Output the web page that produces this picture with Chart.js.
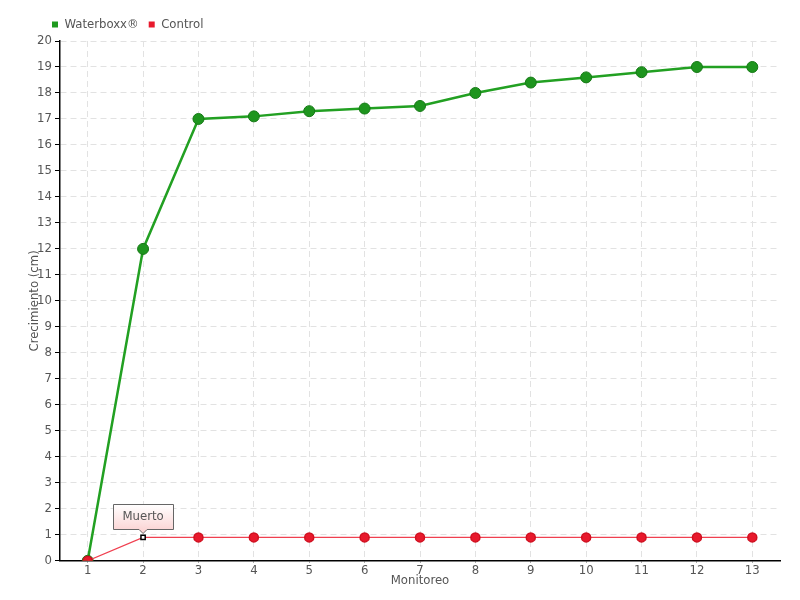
<!DOCTYPE html>
<html>
<head>
<meta charset="utf-8">
<script src="https://cdn.jsdelivr.net/npm/chart.js@4"></script>
<style>
    html, body { margin: 0; padding: 0; background: #fff; }
    #wrap { width: 800px; height: 600px; }
</style>
</head>
<body>
<div id="wrap"><canvas id="chart"></canvas></div>
<script>
// ---- Data ----
const monitoreo = ['1', '2', '3', '4', '5', '6', '7', '8', '9', '10', '11', '12', '13'];
const waterboxx = [0, 12, 17, 17.1, 17.3, 17.4, 17.5, 18, 18.4, 18.6, 18.8, 19, 19];
const control = [0, 0.9, 0.9, 0.9, 0.9, 0.9, 0.9, 0.9, 0.9, 0.9, 0.9, 0.9, 0.9];
const deadIndex = 1;
const deadLabel = 'Muerto';

const FONT = '"DejaVu Sans Condensed", "DejaVu Sans", sans-serif';
const TEXT = '#555';

// marker for the dead plant
const ctrlStyles = control.map((v, i) => i === deadIndex ? 'rect' : 'circle');
const ctrlFill = control.map((v, i) => i === deadIndex ? '#fff' : '#e8192c');
const ctrlBorder = control.map((v, i) => i === deadIndex ? '#000' : '#d01020');
const ctrlRadius = control.map((v, i) => i === deadIndex ? 3 : 4.5);

// ---- Plugins ----
const legendShift = {
    id: 'legendShift',
    afterLayout(chart) {
        chart.legend.left = 42;
    }
};

const deadNote = {
    id: 'deadNote',
    afterDatasetsDraw(chart) {
        const pt = chart.getDatasetMeta(1).data[deadIndex];
        if (!pt) return;
        const ctx = chart.ctx;
        const w = 60, h = 25;
        const x = Math.round(pt.x - w / 2) + 0.5;
        const y = Math.round(pt.y - 33) + 0.5;
        ctx.save();
        const g = ctx.createLinearGradient(0, y, 0, y + h);
        g.addColorStop(0, '#ffffff');
        g.addColorStop(1, '#fbd6d6');
        ctx.beginPath();
        ctx.moveTo(x, y);
        ctx.lineTo(x + w, y);
        ctx.lineTo(x + w, y + h);
        ctx.lineTo(pt.x + 4, y + h);
        ctx.lineTo(pt.x, y + h + 4);
        ctx.lineTo(pt.x - 4, y + h);
        ctx.lineTo(x, y + h);
        ctx.closePath();
        ctx.fillStyle = g;
        ctx.fill();
        ctx.strokeStyle = '#666';
        ctx.lineWidth = 1;
        ctx.stroke();
        ctx.fillStyle = TEXT;
        ctx.font = '13px ' + FONT;
        ctx.textAlign = 'center';
        ctx.textBaseline = 'middle';
        ctx.fillText(deadLabel, pt.x, y + h / 2);
        ctx.restore();
    }
};

// ---- Chart ----
new Chart(document.getElementById('chart'), {
    type: 'line',
    data: {
        labels: monitoreo,
        datasets: [
            {
                label: 'Waterboxx®',
                data: waterboxx,
                borderColor: '#22a022',
                backgroundColor: '#1e9a1e',
                borderWidth: 2.5,
                pointRadius: 5.5,
                pointBackgroundColor: '#1e951e',
                pointBorderColor: '#167a16',
                pointBorderWidth: 1,
                tension: 0,
                order: 1
            },
            {
                label: 'Control',
                data: control,
                borderColor: '#f04050',
                backgroundColor: '#e8192c',
                borderWidth: 1.2,
                pointStyle: ctrlStyles,
                pointRadius: ctrlRadius,
                pointBackgroundColor: ctrlFill,
                pointBorderColor: ctrlBorder,
                pointBorderWidth: 1.5,
                tension: 0,
                order: 0
            }
        ]
    },
    options: {
        responsive: true,
        maintainAspectRatio: false,
        animation: false,
        layout: { padding: { left: 0, right: 20, top: 8, bottom: 12 } },
        plugins: {
            legend: {
                position: 'top',
                align: 'start',
                labels: {
                    boxWidth: 6,
                    boxHeight: 6,
                    padding: 10,
                    color: TEXT,
                    font: { family: FONT, size: 13 },
                    sort: (a, b) => a.datasetIndex - b.datasetIndex,
                    generateLabels(chart) {
                        return chart.data.datasets.map((ds, i) => ({
                            text: ds.label,
                            fillStyle: ds.backgroundColor,
                            strokeStyle: ds.backgroundColor,
                            lineWidth: 0,
                            datasetIndex: i,
                            fontColor: TEXT
                        }));
                    }
                }
            },
            tooltip: { enabled: false }
        },
        scales: {
            x: {
                offset: true,
                grid: {
                    offset: false,
                    color: '#e2e2e2',
                    tickColor: '#999',
                    tickLength: 2,
                    tickBorderDash: []
                },
                border: { color: '#000', width: 1.5, dash: [6, 4] },
                ticks: {
                    color: TEXT,
                    padding: 0,
                    maxRotation: 0,
                    font: { family: FONT, size: 13 }
                },
                title: {
                    display: true,
                    text: 'Monitoreo',
                    color: TEXT,
                    padding: { top: -6, bottom: 0 },
                    font: { family: FONT, size: 13 }
                }
            },
            y: {
                min: 0,
                max: 20,
                afterFit(scale) { scale.width = 60; },
                grid: {
                    color: '#e2e2e2',
                    tickColor: '#000',
                    tickLength: 5,
                    tickBorderDash: []
                },
                border: { color: '#000', width: 1.5, dash: [6, 4] },
                ticks: {
                    stepSize: 1,
                    color: TEXT,
                    padding: 3,
                    font: { family: FONT, size: 13 }
                },
                title: {
                    display: true,
                    text: 'Crecimiento (cm)',
                    color: TEXT,
                    padding: { top: 27, bottom: 0 },
                    font: { family: FONT, size: 13 }
                }
            }
        }
    },
    plugins: [legendShift, deadNote]
});
</script>
</body>
</html>
